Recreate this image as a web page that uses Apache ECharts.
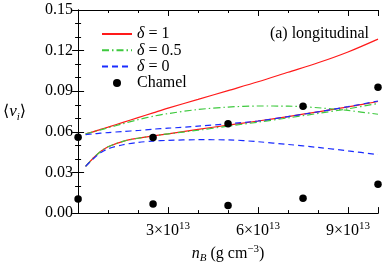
<!DOCTYPE html>
<html>
<head>
<meta charset="utf-8">
<script src="https://cdn.jsdelivr.net/npm/echarts@6/dist/echarts.min.js"></script>
<style>html,body{margin:0;padding:0;background:#fff}#c{width:382px;height:269px}</style>
</head>
<body>
<div id="c"></div>
<script>
// density grid for the model curves, in units of 1e13 g cm^-3
var nB = [0.25, 0.5, 0.75, 1, 1.5, 2, 2.5, 3, 4, 5, 6, 7, 8, 9, 10];
var delta1Upper  = [0.0585, 0.0600, 0.0618, 0.0635, 0.0670, 0.0705, 0.0740, 0.0775, 0.0840, 0.0905, 0.0970, 0.1040, 0.1110, 0.1190, 0.1285];
var delta1Lower  = [0.0345, 0.0405, 0.0455, 0.0490, 0.0530, 0.0553, 0.0570, 0.0585, 0.0618, 0.0650, 0.0680, 0.0713, 0.0748, 0.0784, 0.0824];
var delta05Upper = [0.0585, 0.0600, 0.0615, 0.0630, 0.0660, 0.0690, 0.0715, 0.0735, 0.0765, 0.0783, 0.0791, 0.0790, 0.0778, 0.0758, 0.0730];
var delta05Lower = [0.0345, 0.0405, 0.0455, 0.0490, 0.0530, 0.0553, 0.0570, 0.0585, 0.0612, 0.0642, 0.0672, 0.0703, 0.0736, 0.0770, 0.0810];
var delta0Upper  = [0.0580, 0.0585, 0.0590, 0.0595, 0.0603, 0.0610, 0.0620, 0.0627, 0.0642, 0.0660, 0.0680, 0.0713, 0.0748, 0.0786, 0.0828];
var delta0Lower  = [0.0345, 0.0400, 0.0445, 0.0475, 0.0505, 0.0522, 0.0532, 0.0537, 0.0542, 0.0541, 0.0527, 0.0507, 0.0485, 0.0460, 0.0432];
var chamelX = [0, 0, 2.5, 2.5, 5, 5, 7.5, 7.5, 10, 10];
var chamelY = [0.0560, 0.0105, 0.0558, 0.0068, 0.0660, 0.0056, 0.0790, 0.0110, 0.0930, 0.0213];
var yTicks = [0.00, 0.03, 0.06, 0.09, 0.12, 0.15];
var xTickLabels = [3, 6, 9];

var FONT = 'Liberation Serif';
function pairs(xs, ys, scale) {
  var out = [];
  for (var i = 0; i < xs.length; i++) out.push([xs[i] * scale, ys[i]]);
  return out;
}
var RED = '#ff1a1a', GREEN = '#3ec93e', BLUE = '#1a2cff';
function lineSeries(name, data, color, type) {
  return {
    name: name, type: 'line', data: pairs(nB, data, 1e13), smooth: 0.3,
    showSymbol: false, symbol: 'circle', symbolSize: 0, xAxisIndex: 0, yAxisIndex: 0,
    lineStyle: {color: color, width: 1.2, type: type}, itemStyle: {color: color},
    emphasis: {disabled: true}, animation: false
  };
}
var DASH = [6, 4], DASHDOT = [7, 3, 1.5, 3];
var baseAxis = {
  type: 'value', min: 0, max: 1e14,
  axisLine: {show: true, lineStyle: {color: '#000', width: 1}},
  splitLine: {show: false}
};
function xa(pos, interval, len, labels) {
  return Object.assign({}, baseAxis, {
    position: pos, interval: interval,
    axisTick: {show: true, inside: true, length: len, lineStyle: {color: '#000', width: 1}},
    axisLabel: labels ? {
      show: true, margin: 8, color: '#000',
      formatter: function (v) {
        var n = Math.round(v / 1e13);
        if (xTickLabels.indexOf(n) < 0) return '';
        return '{a|' + n + '×10}{s|13}';
      },
      rich: {
        a: {fontFamily: FONT, fontSize: 16, color: '#000', lineHeight: 20},
        s: {fontFamily: FONT, fontSize: 11, color: '#000', lineHeight: 11, verticalAlign: 'top'}
      }
    } : {show: false}
  });
}
function ya(pos, labels) {
  return {
    type: 'value', min: 0, max: 0.15, interval: 0.03, position: pos,
    axisLine: {show: true, lineStyle: {color: '#000', width: 1}},
    splitLine: {show: false},
    axisTick: {show: true, inside: true, length: 6, lineStyle: {color: '#000'}},
    minorTick: {show: true, splitNumber: 3, length: 3, lineStyle: {color: '#000'}},
    minorSplitLine: {show: false},
    axisLabel: labels ? {
      show: true, margin: 5, color: '#000', fontFamily: FONT, fontSize: 16,
      formatter: function (v) { return v.toFixed(2); }
    } : {show: false}
  };
}
var xAxes = [xa('bottom', 3e13, 6, true), xa('bottom', 1e13, 3, false), xa('top', 3e13, 6, false), xa('top', 1e13, 3, false)];
xAxes[0].name = '{i|n}{sub|B}{t| (g cm}{sup|−3}{t|)}';
xAxes[0].nameLocation = 'middle';
xAxes[0].nameGap = 30;
xAxes[0].nameTextStyle = {
  rich: {
    i: {fontFamily: FONT, fontStyle: 'italic', fontSize: 16, color: '#000', lineHeight: 20},
    sub: {fontFamily: FONT, fontStyle: 'italic', fontSize: 11, color: '#000', lineHeight: 11, verticalAlign: 'bottom'},
    t: {fontFamily: FONT, fontSize: 16, color: '#000', lineHeight: 20},
    sup: {fontFamily: FONT, fontSize: 11, color: '#000', lineHeight: 11, verticalAlign: 'top'}
  }
};
var yAxes = [ya('left', true), ya('right', false)];
yAxes[0].name = '{t|⟨}{i|v}{sub|i}{t|⟩}';
yAxes[0].nameLocation = 'middle';
yAxes[0].nameRotate = 0;
yAxes[0].nameGap = 52;
yAxes[0].nameTextStyle = {
  rich: {
    i: {fontFamily: FONT, fontStyle: 'italic', fontSize: 17, color: '#000', lineHeight: 22},
    sub: {fontFamily: FONT, fontStyle: 'italic', fontSize: 11, color: '#000', lineHeight: 11, verticalAlign: 'bottom'},
    t: {fontFamily: 'DejaVu Serif', fontSize: 16, color: '#000', lineHeight: 22}
  }
};

var chart = echarts.init(document.getElementById('c'), null, {renderer: 'canvas'});
chart.setOption({
  animation: false,
  backgroundColor: '#fff',
  grid: {left: 67, right: 4, top: 10, bottom: 46, containLabel: false},
  title: {
    text: '(a) longitudinal', right: 8, top: 21,
    textStyle: {fontFamily: FONT, fontSize: 16, fontWeight: 'normal', color: '#000'}
  },
  legend: {
    orient: 'vertical', left: 96, top: 21, itemWidth: 30, itemHeight: 8, itemGap: 0.3,
    data: [
      {name: 'δ1', itemStyle: {opacity: 0}},
      {name: 'δ05', itemStyle: {opacity: 0}},
      {name: 'δ0', itemStyle: {opacity: 0}},
      {name: 'Chamel'}
    ],
    formatter: function (n) {
      if (n === 'δ1') return '{i|δ} = 1';
      if (n === 'δ05') return '{i|δ} = 0.5';
      if (n === 'δ0') return '{i|δ} = 0';
      return n;
    },
    textStyle: {
      fontFamily: FONT, fontSize: 16, color: '#000', lineHeight: 16,
      rich: {i: {fontFamily: FONT, fontStyle: 'italic', fontSize: 16, color: '#000', lineHeight: 16}}
    },
    selectedMode: false
  },
  xAxis: xAxes,
  yAxis: yAxes,
  series: [
    lineSeries('δ1', delta1Upper, RED, 'solid'),
    lineSeries('δ1', delta1Lower, RED, 'solid'),
    lineSeries('δ05', delta05Upper, GREEN, DASHDOT),
    lineSeries('δ05', delta05Lower, GREEN, DASHDOT),
    lineSeries('δ0', delta0Upper, BLUE, DASH),
    lineSeries('δ0', delta0Lower, BLUE, DASH),
    {
      name: 'Chamel', type: 'scatter', data: pairs(chamelX, chamelY, 1e13),
      symbol: 'circle', symbolSize: 7.5, itemStyle: {color: '#000', opacity: 1}, clip: false,
      xAxisIndex: 0, yAxisIndex: 0, emphasis: {disabled: true}, z: 5
    }
  ]
});
</script>
</body>
</html>
